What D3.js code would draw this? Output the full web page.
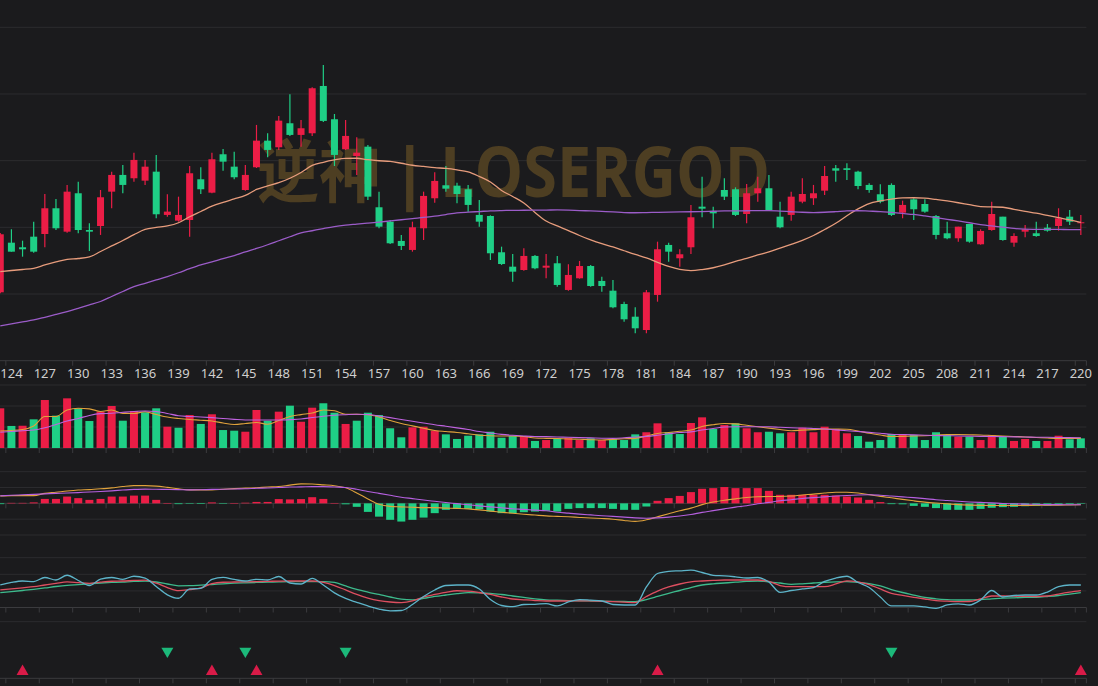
<!DOCTYPE html>
<html>
<head>
<meta charset="utf-8">
<script src="https://cdn.jsdelivr.net/npm/d3@7"></script>
<style>
html,body{margin:0;padding:0;background:#1b1b1d;overflow:hidden;}
svg{display:block;}
</style>
</head>
<body>
<svg id="chart" width="1098" height="686"></svg>
<script>
// categories (bar index) and x tick labels
var cats = d3.range(123, 221);
var tickLabels = [124,127,130,133,136,139,142,145,148,151,154,157,160,163,166,169,172,175,178,181,184,187,190,193,196,199,202,205,208,211,214,217,220];

// candles
var open = [20.26,27.70,27.01,28.60,29.00,32.86,29.35,35.11,29.60,30.20,
  35.35,37.86,37.36,37.00,38.35,31.86,31.00,31.10,37.21,35.20,
  40.96,39.10,35.60,39.01,43.00,42.01,45.61,43.86,44.11,51.20,
  46.21,41.71,40.70,42.10,33.01,30.85,27.96,26.61,29.86,34.36,
  36.31,36.25,35.71,31.86,31.70,26.26,24.10,23.60,25.71,23.95,
  24.61,20.61,22.36,24.20,21.96,20.50,18.50,16.60,14.60,19.86,
  27.36,25.36,27.01,33.10,32.46,35.60,35.71,32.00,35.11,35.86,
  31.60,31.86,33.85,34.36,35.50,38.86,38.86,38.35,36.36,34.96,
  36.36,32.20,34.20,33.50,31.70,29.11,28.36,30.50,27.46,29.60,
  31.60,27.70,29.35,29.11,29.95,30.20,31.60,30.61];
var high = [29.16,29.71,28.00,30.85,35.00,34.26,36.36,36.85,30.61,35.60,
  38.35,39.36,41.20,40.11,40.86,34.96,34.60,39.20,39.01,41.20,
  41.76,41.35,39.36,45.36,44.11,46.71,49.96,46.11,51.00,54.36,
  47.00,46.11,43.51,42.36,35.35,31.11,28.86,30.85,35.35,38.26,
  39.20,36.70,36.36,34.10,31.80,27.10,26.00,26.86,25.86,26.00,
  25.71,24.46,24.96,24.36,22.60,22.10,18.85,18.01,20.61,27.85,
  27.70,26.71,33.36,37.60,33.10,37.36,36.00,36.50,37.60,37.86,
  33.85,35.35,37.36,36.36,39.20,39.36,39.61,38.50,36.60,36.46,
  36.60,34.00,34.36,34.20,31.86,30.85,30.10,30.50,29.71,33.85,
  31.60,29.11,30.36,30.85,30.50,32.86,32.60,31.86];
var low = [20.10,26.35,25.60,26.20,27.01,29.60,29.20,29.11,26.46,28.86,
  32.86,35.11,36.85,36.36,31.36,31.60,30.85,28.60,35.00,35.11,
  38.50,37.21,35.50,38.90,40.51,41.61,43.70,42.10,43.70,45.80,
  39.20,41.61,37.86,34.10,29.86,27.50,26.61,26.35,28.10,33.70,
  35.35,33.61,32.35,30.10,25.10,24.36,21.85,23.50,23.71,22.36,
  21.10,20.50,22.30,21.10,20.35,17.86,15.85,14.11,14.11,18.85,
  24.85,24.10,26.00,31.51,29.86,34.10,31.70,30.61,33.85,32.50,
  29.86,31.00,33.61,33.36,34.86,36.85,37.10,35.71,35.20,33.61,
  31.70,31.36,31.10,32.20,28.20,28.20,27.85,27.70,27.40,29.50,
  28.00,27.10,28.50,28.60,29.35,29.50,30.36,28.86];
var close = [28.96,26.35,26.71,26.35,32.86,29.86,35.35,29.60,29.35,34.51,
  37.86,36.36,40.11,39.10,31.96,32.36,31.86,38.11,35.71,40.21,
  39.85,37.51,37.86,43.00,41.61,46.00,43.86,44.86,50.86,45.96,
  40.86,43.71,41.20,34.60,30.10,27.61,27.21,30.01,34.71,36.96,
  35.80,35.00,33.36,30.85,26.11,24.50,23.35,25.71,23.86,24.25,
  21.36,22.86,24.20,21.20,21.20,18.01,16.21,14.86,20.26,26.71,
  26.35,25.96,31.51,32.80,32.10,34.60,31.86,35.11,35.86,32.60,
  30.01,34.60,35.00,35.11,37.70,38.50,38.61,36.20,35.60,33.85,
  31.86,33.36,32.71,32.35,28.86,28.36,30.10,27.85,29.46,32.00,
  28.10,28.70,29.71,28.70,29.50,31.36,30.85,30.76];
var ma20 = [23.35,23.53,23.68,23.86,24.36,24.81,25.21,25.33,25.56,26.38,
  27.21,28.03,28.90,29.68,29.98,30.21,30.69,31.59,32.38,33.18,
  33.76,34.26,34.78,35.68,36.21,36.69,37.36,38.23,39.28,39.76,
  40.11,40.35,40.36,40.14,39.99,39.88,39.61,39.31,39.13,38.95,
  38.83,38.61,38.31,37.63,36.81,35.53,34.63,33.66,32.23,30.96,
  30.21,29.52,28.78,28.11,27.54,27.06,26.49,25.93,25.41,24.76,
  24.13,23.68,23.52,23.67,23.94,24.36,24.91,25.33,25.86,26.31,
  26.88,27.45,28.06,28.78,29.68,30.61,31.74,32.76,33.57,33.96,
  34.23,34.41,34.44,34.38,34.18,33.96,33.69,33.39,33.10,33.06,
  33.01,32.71,32.41,32.13,31.78,31.44,31.11,30.73];
var ma60 = [15.21,15.51,15.81,16.11,16.51,16.93,17.37,17.86,18.36,18.88,
  19.63,20.38,21.12,21.61,22.11,22.62,23.19,23.80,24.36,24.81,
  25.30,25.77,26.31,26.83,27.39,27.99,28.59,29.16,29.49,29.82,
  30.12,30.33,30.48,30.63,30.78,30.96,31.14,31.32,31.48,31.68,
  31.92,32.16,32.28,32.37,32.47,32.52,32.55,32.56,32.58,32.59,
  32.61,32.58,32.52,32.46,32.38,32.31,32.22,32.19,32.22,32.25,
  32.28,32.31,32.34,32.37,32.41,32.46,32.46,32.49,32.50,32.50,
  32.43,32.34,32.26,32.22,32.26,32.35,32.46,32.49,32.43,32.37,
  32.23,32.08,31.93,31.71,31.47,31.21,30.96,30.69,30.42,30.21,
  30.03,29.83,29.73,29.70,29.68,29.68,29.67,29.67];

// volume
var volume = [37.8,21.0,21.2,27.3,45.7,30.8,47.3,37.8,25.7,34.6,
  40.0,26.0,35.2,34.0,37.8,20.3,19.3,31.4,22.9,32.1,
  17.1,16.5,15.5,36.2,26.0,34.6,40.3,25.0,38.4,42.6,
  33.6,22.9,26.0,33.6,31.4,18.8,10.2,19.7,20.3,16.5,
  13.0,8.6,11.7,13.0,15.5,9.8,11.4,11.4,6.7,7.6,
  9.2,9.8,7.6,9.2,7.6,8.6,7.6,13.0,15.0,23.5,
  15.0,13.3,23.8,29.2,18.1,21.9,23.5,18.8,15.0,15.5,
  14.0,15.0,19.3,15.0,20.3,18.1,14.0,11.4,6.0,7.6,
  13.3,13.3,12.4,7.6,15.0,12.4,10.8,10.8,7.6,12.4,
  10.8,6.7,8.6,6.7,6.7,11.7,8.3,9.2];
var volUp = [1,0,1,0,1,0,1,0,0,1,
  1,0,1,0,0,1,0,1,0,1,
  0,0,1,1,0,1,0,1,1,0,
  0,1,0,0,0,0,0,1,1,1,
  0,0,0,0,0,0,0,1,0,1,
  0,1,1,0,1,0,0,0,1,1,
  0,0,1,1,0,1,0,1,1,0,
  0,1,1,1,1,1,1,0,0,0,
  0,1,0,0,0,0,1,0,1,1,
  0,1,1,0,1,1,0,0];
var volMa5 = [16.2,16.7,17.6,21.0,30.0,30.0,36.2,37.8,37.3,34.8,
  36.2,33.0,32.9,34.5,31.9,29.5,28.1,27.1,26.5,25.7,
  23.8,22.4,23.3,24.3,22.6,26.2,30.0,31.8,33.3,36.2,
  35.4,32.1,32.1,31.6,29.5,26.2,23.3,21.1,18.8,16.7,
  15.7,14.8,13.5,12.2,11.6,11.4,11.4,10.9,9.5,9.2,
  9.0,8.6,8.3,7.9,7.6,8.2,8.8,9.2,11.4,13.8,
  14.8,15.9,17.1,20.5,22.2,23.3,23.0,21.6,20.3,18.9,
  17.6,16.4,17.0,17.5,18.1,18.0,17.8,16.2,14.1,12.4,
  10.9,11.1,11.4,11.7,12.2,12.9,12.8,12.6,12.4,11.9,
  11.4,11.0,10.5,10.0,9.5,9.2,9.2,9.2];
var volMa10 = [15.0,15.7,16.5,17.1,19.2,22.4,25.7,28.1,31.0,32.7,
  33.1,34.0,34.8,35.2,34.8,32.9,30.7,30.0,29.5,28.9,
  28.1,27.3,26.7,26.7,26.7,26.7,27.0,27.6,29.0,30.3,
  31.2,31.7,32.1,31.9,30.5,28.9,27.1,25.4,23.8,22.1,
  20.7,19.2,17.6,15.7,14.3,13.0,12.1,11.4,10.9,10.8,
  10.5,10.2,9.9,9.6,9.3,9.2,9.7,10.5,11.1,12.2,
  13.5,14.8,15.4,17.1,18.6,20.0,20.3,20.3,20.3,20.2,
  19.7,19.3,19.0,18.6,18.1,17.3,16.5,15.7,14.9,14.0,
  13.1,12.8,12.5,12.2,11.9,11.7,11.5,11.3,11.1,11.0,
  10.8,10.6,10.5,10.3,10.2,10.0,9.9,9.8];

// MACD
var macdHist = [-0.05,0.03,0.03,0.06,0.28,0.28,0.43,0.33,0.22,0.28,
  0.43,0.43,0.49,0.49,0.22,0.01,-0.05,-0.01,-0.04,0.06,
  -0.01,0.01,0.04,0.09,0.09,0.27,0.25,0.27,0.39,0.28,
  0.01,-0.06,-0.22,-0.54,-0.84,-1.04,-1.15,-1.04,-0.90,-0.62,
  -0.41,-0.35,-0.35,-0.37,-0.52,-0.62,-0.62,-0.56,-0.52,-0.47,
  -0.52,-0.35,-0.30,-0.30,-0.30,-0.35,-0.41,-0.41,-0.20,0.16,
  0.33,0.47,0.71,0.92,0.96,1.03,0.96,0.96,0.96,0.79,
  0.54,0.54,0.54,0.54,0.54,0.49,0.43,0.37,0.22,0.08,
  -0.05,-0.06,-0.16,-0.22,-0.30,-0.41,-0.41,-0.41,-0.35,-0.28,
  -0.24,-0.22,-0.18,-0.16,-0.14,-0.11,-0.05,-0.03];
var dif = [0.47,0.49,0.49,0.49,0.63,0.70,0.78,0.84,0.87,0.92,
  0.98,1.06,1.12,1.12,1.09,1.01,0.92,0.85,0.85,0.85,
  0.89,0.93,0.96,0.99,1.03,1.06,1.15,1.23,1.22,1.17,
  1.11,0.98,0.66,0.28,-0.06,-0.19,-0.22,-0.25,-0.27,-0.27,
  -0.30,-0.32,-0.35,-0.41,-0.49,-0.56,-0.63,-0.69,-0.74,-0.79,
  -0.82,-0.85,-0.89,-0.93,-0.96,-1.00,-1.08,-1.14,-1.04,-0.85,
  -0.66,-0.47,-0.30,-0.08,0.08,0.20,0.28,0.37,0.42,0.43,
  0.43,0.46,0.53,0.58,0.65,0.70,0.70,0.65,0.55,0.44,
  0.35,0.25,0.16,0.08,0.02,-0.03,-0.08,-0.11,-0.13,-0.14,
  -0.14,-0.14,-0.13,-0.12,-0.11,-0.11,-0.10,-0.09];
var dea = [0.47,0.51,0.54,0.57,0.60,0.63,0.65,0.68,0.72,0.75,
  0.79,0.84,0.88,0.90,0.89,0.88,0.87,0.85,0.86,0.88,
  0.89,0.91,0.92,0.95,0.97,1.00,1.03,1.04,1.06,1.06,
  1.03,1.00,0.89,0.75,0.63,0.51,0.39,0.30,0.21,0.13,
  0.05,-0.02,-0.09,-0.16,-0.22,-0.28,-0.34,-0.38,-0.43,-0.47,
  -0.56,-0.62,-0.68,-0.73,-0.78,-0.82,-0.87,-0.92,-0.94,-0.92,
  -0.87,-0.80,-0.70,-0.57,-0.46,-0.35,-0.24,-0.15,-0.03,0.06,
  0.16,0.23,0.31,0.36,0.41,0.46,0.50,0.53,0.54,0.51,
  0.46,0.41,0.36,0.30,0.23,0.18,0.13,0.09,0.06,0.03,
  -0.01,-0.03,-0.05,-0.06,-0.08,-0.08,-0.09,-0.09];

// KDJ
var kLine = [26.4,28.0,29.7,31.3,33.9,36.4,38.6,37.5,36.4,38.1,
  39.5,39.9,40.7,41.1,36.6,30.1,25.3,27.0,29.4,36.0,
  38.0,38.4,38.7,39.0,39.3,39.8,39.9,39.9,39.9,37.7,
  33.1,26.4,19.6,14.3,10.5,8.3,7.4,9.8,15.8,19.6,
  22.9,25.2,24.8,22.6,19.6,15.8,12.8,11.6,10.5,9.8,
  9.8,9.8,10.1,10.1,9.3,8.7,8.0,7.4,16.6,24.8,
  30.9,35.4,38.7,39.9,40.8,41.4,41.4,41.4,41.4,39.2,
  33.1,31.3,31.3,31.3,31.3,35.4,40.2,38.7,34.6,27.9,
  21.1,18.1,15.4,12.8,10.5,9.5,8.7,9.0,12.8,17.3,
  17.3,17.0,16.9,16.6,17.3,20.3,23.0,25.3];
var dLine = [22.3,23.9,25.6,27.4,29.4,31.6,33.4,34.6,35.8,36.9,
  37.7,38.4,39.2,39.6,38.4,35.4,32.7,32.8,33.6,34.6,
  35.7,36.6,37.2,37.7,38.1,38.6,38.9,38.9,38.9,38.9,
  37.7,32.4,27.4,23.3,19.6,15.8,12.5,11.6,13.6,16.6,
  18.8,20.8,22.3,22.1,21.4,19.6,17.3,15.1,13.1,11.6,
  11.0,10.5,10.1,9.8,9.5,9.2,9.0,8.7,12.0,16.6,
  21.4,25.6,30.1,33.9,35.7,36.9,38.1,39.2,39.9,38.7,
  36.9,34.9,35.7,36.9,38.0,38.7,38.9,37.7,36.1,32.4,
  27.1,22.6,18.8,15.1,13.1,11.9,11.3,11.3,12.0,13.1,
  14.0,14.6,15.1,15.4,16.6,18.1,20.3,22.3];
var jLine = [33.9,37.7,39.9,39.0,45.2,41.4,48.6,40.7,33.1,42.9,
  45.2,42.5,47.1,44.4,31.6,19.1,13.9,27.9,28.9,42.2,
  45.3,42.2,39.9,42.5,41.4,46.7,36.9,35.4,44.0,33.9,
  22.1,13.6,7.8,2.3,-2.3,-5.0,-4.5,4.5,16.6,26.4,
  33.1,33.9,33.9,27.9,12.0,3.0,1.2,4.5,4.8,5.9,
  2.3,8.3,12.0,11.0,9.8,4.5,3.8,3.8,30.9,51.2,
  54.5,55.3,56.2,52.7,48.5,47.7,46.2,44.4,45.2,38.4,
  22.9,25.6,27.9,30.1,39.2,44.4,47.1,37.7,30.1,15.8,
  2.3,2.3,2.3,0.8,-1.2,3.8,5.6,3.8,11.3,25.6,
  15.8,18.1,18.8,18.8,23.3,31.6,33.9,33.9];

// signals
var buySignals = [125, 142, 146, 182, 220];
var sellSignals = [138, 145, 154, 203];

// colours
var RED = '#eb1d46', GREEN = '#1fcf86';

var svg = d3.select('#chart');
svg.append('rect').attr('width', 1098).attr('height', 686).attr('fill', '#1b1b1d');

var x = d3.scaleBand().domain(cats).range([-5.3, 1086.4]).paddingInner(0).paddingOuter(0);
var bw = x.bandwidth();
function cx(c) { return x(c) + bw / 2; }
var right = x.range()[1];

var yPrice = d3.scaleLinear().domain([10, 60]).range([360.7, 27.3]);
var yVol = d3.scaleLinear().domain([0, 60]).range([448, 385]);
var yMacd = d3.scaleLinear().domain([-2, 2]).range([535, 471.7]);
var yKdj = d3.scaleLinear().domain([0, 75]).range([607.5, 557.7]);
var ySig = d3.scaleLinear().domain([0, 1]).range([678.3, 621.7]);

// grid lines + axis line with boundary ticks
function panelGrid(scale, values, axisValue) {
  var g = svg.append('g');
  g.selectAll('line.grid').data(values).enter().append('line')
    .attr('class', 'grid')
    .attr('x1', 0).attr('x2', right)
    .attr('y1', function(d){ return scale(d); })
    .attr('y2', function(d){ return scale(d); })
    .attr('stroke', function(d){ return d === axisValue ? '#3b3b3e' : '#2c2c2f'; })
    .attr('stroke-width', 1);
  var ay = scale(axisValue);
  var tickX = tickLabels.map(function(c){ return x(c); }).concat([right]);
  g.selectAll('line.tk').data(tickX).enter().append('line')
    .attr('class', 'tk')
    .attr('x1', function(d){ return d; }).attr('x2', function(d){ return d; })
    .attr('y1', ay).attr('y2', ay + 5)
    .attr('stroke', '#3b3b3e');
}
panelGrid(yPrice, [10, 20, 30, 40, 50, 60], 10);
panelGrid(yVol, [0, 20, 40, 60], 0);
panelGrid(yMacd, [-2, -1, 0, 1, 2], 0);
panelGrid(yKdj, [0, 25, 50, 75], 0);
panelGrid(ySig, [0, 1], 0);

// x labels
var xa = svg.append('g').attr('transform', 'translate(0,' + yPrice(10) + ')')
  .call(d3.axisBottom(x).tickValues(tickLabels).tickSize(0).tickPadding(8));
xa.select('.domain').remove();
xa.selectAll('text').attr('fill', '#cfcfcf').style('font-family', '"Noto Sans", "Open Sans", sans-serif').style('font-size', '13px');

// watermark, one text with three pieces
var wm = svg.append('text').attr('fill', '#4d3e22').attr('y', 197)
  .style('font-family', '"Open Sans", sans-serif').style('font-weight', 700);
wm.append('tspan').attr('x', 257).attr('textLength', 124).attr('lengthAdjust', 'spacingAndGlyphs')
  .style('font-family', '"Noto Sans CJK SC", sans-serif').style('font-size', '68px').text('逆神');
wm.append('tspan').attr('x', 391).style('font-size', '68px').text('|');
wm.append('tspan').attr('x', 440).attr('textLength', 330).attr('lengthAdjust', 'spacingAndGlyphs')
  .style('font-size', '70px').text('LOSERGOD');

// candles
var candles = cats.map(function(c, i){ return {c: c, o: open[i], h: high[i], l: low[i], cl: close[i]}; });
var cg = svg.append('g');
cg.selectAll('line').data(candles).enter().append('line')
  .attr('x1', function(d){ return cx(d.c); }).attr('x2', function(d){ return cx(d.c); })
  .attr('y1', function(d){ return yPrice(d.h); }).attr('y2', function(d){ return yPrice(d.l); })
  .attr('stroke', function(d){ return d.cl >= d.o ? RED : GREEN; }).attr('stroke-width', 1.2);
cg.selectAll('rect').data(candles).enter().append('rect')
  .attr('x', function(d){ return cx(d.c) - 3.5; }).attr('width', 7)
  .attr('y', function(d){ return yPrice(Math.max(d.o, d.cl)); })
  .attr('height', function(d){ return Math.max(1, Math.abs(yPrice(d.o) - yPrice(d.cl))); })
  .attr('fill', function(d){ return d.cl >= d.o ? RED : GREEN; });

function drawLine(scale, values, color, width) {
  var line = d3.line()
    .x(function(d, i){ return cx(cats[i]); })
    .y(function(d){ return scale(d); })
    .curve(d3.curveMonotoneX);
  svg.append('path').datum(values).attr('d', line)
    .attr('fill', 'none').attr('stroke', color).attr('stroke-width', width);
}
drawLine(yPrice, ma20, '#e79c7c', 1.3);
drawLine(yPrice, ma60, '#9b5cc8', 1.3);

// volume
svg.append('g').selectAll('rect').data(volume).enter().append('rect')
  .attr('x', function(d, i){ return cx(cats[i]) - 4; }).attr('width', 8)
  .attr('y', function(d){ return yVol(d); })
  .attr('height', function(d){ return yVol(0) - yVol(d); })
  .attr('fill', function(d, i){ return volUp[i] ? RED : GREEN; });
drawLine(yVol, volMa5, '#e0a23c', 1.1);
drawLine(yVol, volMa10, '#c063e0', 1.1);

// MACD
svg.append('g').selectAll('rect').data(macdHist).enter().append('rect')
  .attr('x', function(d, i){ return cx(cats[i]) - 4; }).attr('width', 8)
  .attr('y', function(d){ return Math.min(yMacd(d), yMacd(0)); })
  .attr('height', function(d){ return Math.max(0.5, Math.abs(yMacd(d) - yMacd(0))); })
  .attr('fill', function(d){ return d >= 0 ? RED : GREEN; });
drawLine(yMacd, dif, '#e0a23c', 1.1);
drawLine(yMacd, dea, '#b660e0', 1.1);

// KDJ
drawLine(yKdj, dLine, '#3dba8c', 1.3);
drawLine(yKdj, kLine, '#dd4f60', 1.3);
drawLine(yKdj, jLine, '#5db4c9', 1.3);

// signals
var tri = d3.symbol().type(d3.symbolTriangle).size(62);
svg.append('g').selectAll('path').data(sellSignals).enter().append('path')
  .attr('d', tri)
  .attr('transform', function(c){ return 'translate(' + cx(c) + ',' + ySig(0.48) + ') rotate(180)'; })
  .attr('fill', '#1cb97a');
svg.append('g').selectAll('path').data(buySignals).enter().append('path')
  .attr('d', tri)
  .attr('transform', function(c){ return 'translate(' + cx(c) + ',' + ySig(0.12) + ')'; })
  .attr('fill', '#d91b48');
</script>
</body>
</html>
